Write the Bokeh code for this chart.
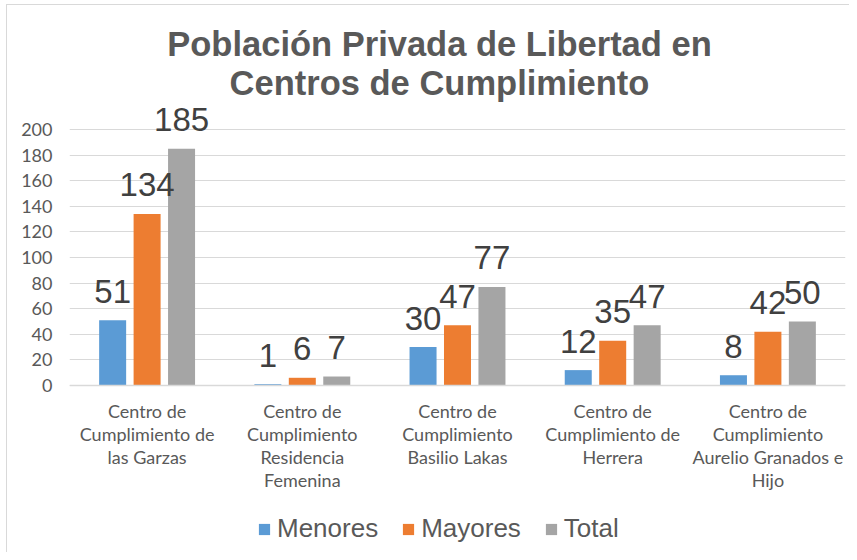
from bokeh.plotting import figure
from bokeh.models import (ColumnDataSource, FactorRange, Range1d, FixedTicker, Legend,
                          LegendItem, Label, Span)
from bokeh.transform import dodge
from bokeh.core.properties import value
from bokeh.embed import file_html
from bokeh.resources import INLINE

# ---- data ----
categories = [
    "Centro de\nCumplimiento de\nlas Garzas",
    "Centro de\nCumplimiento\nResidencia\nFemenina",
    "Centro de\nCumplimiento\nBasilio Lakas",
    "Centro de\nCumplimiento de\nHerrera",
    "Centro de\nCumplimiento\nAurelio Granados e\nHijo",
]
menores = [51, 1, 30, 12, 8]
mayores = [134, 6, 47, 35, 42]
total = [185, 7, 77, 47, 50]
series_names = ["Menores", "Mayores", "Total"]
series_colors = ["#5B9BD5", "#ED7D31", "#A5A5A5"]
y_ticks = [0, 20, 40, 60, 80, 100, 120, 140, 160, 180, 200]
title_lines = ["Población Privada de Libertad en", "Centros de Cumplimiento"]

source = ColumnDataSource(dict(
    cat=categories,
    zero=[0] * len(categories),
    Menores=menores, Mayores=mayores, Total=total,
    Menores_t=[str(v) for v in menores],
    Mayores_t=[str(v) for v in mayores],
    Total_t=[str(v) for v in total],
))

p = figure(
    x_range=FactorRange(factors=categories),
    y_range=Range1d(-130.5, 291.4),
    frame_width=776, frame_height=540,
    min_border_left=62, min_border_right=4, min_border_top=7, min_border_bottom=0,
    output_backend="svg", toolbar_location=None,
)
p.styles = {"margin-left": "6px", "margin-top": "4px",
            "border-left": "1px solid #D9D9D9", "border-top": "1px solid #D9D9D9"}
p.outline_line_color = None
p.background_fill_color = "white"
p.border_fill_color = "white"

# gridlines
p.xgrid.grid_line_color = None
p.ygrid.ticker = FixedTicker(ticks=y_ticks)
p.ygrid.grid_line_color = "#D9D9D9"
p.ygrid.grid_line_width = 1

# category axis line at 0
p.add_layout(Span(location=0, dimension="width", line_color="#D9D9D9", line_width=1.5))

offsets = [-0.222, 0.0, 0.222]
renderers = []
for name, color, off in zip(series_names, series_colors, offsets):
    r = p.vbar(x=dodge("cat", off, range=p.x_range), top=name, width=0.174,
               source=source, fill_color=color, line_color=None)
    renderers.append(r)

# data labels drawn after all bars
for name, off in zip(series_names, offsets):
    p.text(x=dodge("cat", off, range=p.x_range), y=name, text=name + "_t",
           source=source, text_align="center", text_baseline="alphabetic",
           y_offset=-29, text_font=value("Arial"),
           text_font_size="33px", text_color="#404040")

# category labels
p.text(x="cat", y="zero", text="cat", source=source, text_align="center",
       text_baseline="top", y_offset=15, text_font=value("Lato"),
       text_font_size="18px", text_color="#595959", text_line_height=1.04)

# axes
p.xaxis.visible = False
p.yaxis.ticker = FixedTicker(ticks=y_ticks)
p.yaxis.axis_line_color = None
p.yaxis.major_tick_line_color = None
p.yaxis.minor_tick_line_color = None
p.yaxis.major_label_text_font = "Lato"
p.yaxis.major_label_text_font_size = "18px"
p.yaxis.major_label_text_color = "#595959"
p.yaxis.major_label_standoff = 11

# title
for txt, yb in zip(title_lines, [266.9, 236.2]):
    p.add_layout(Label(x=2.384, y=yb, text=txt, text_align="center",
                       text_baseline="alphabetic", text_font="Arial",
                       text_font_style="bold", text_font_size="34.5px",
                       text_color="#595959"))

legend = Legend(items=[LegendItem(label=n, renderers=[r]) for n, r in zip(series_names, renderers)],
                orientation="horizontal", location=(188, 8),
                glyph_width=14, glyph_height=14, label_standoff=6, spacing=23,
                label_text_font="Arial", label_text_font_size="26px",
                label_text_color="#595959", border_line_color=None,
                background_fill_alpha=0, margin=0, padding=0)
p.add_layout(legend, "center")

open("out.html", "w").write(file_html(p, INLINE))
